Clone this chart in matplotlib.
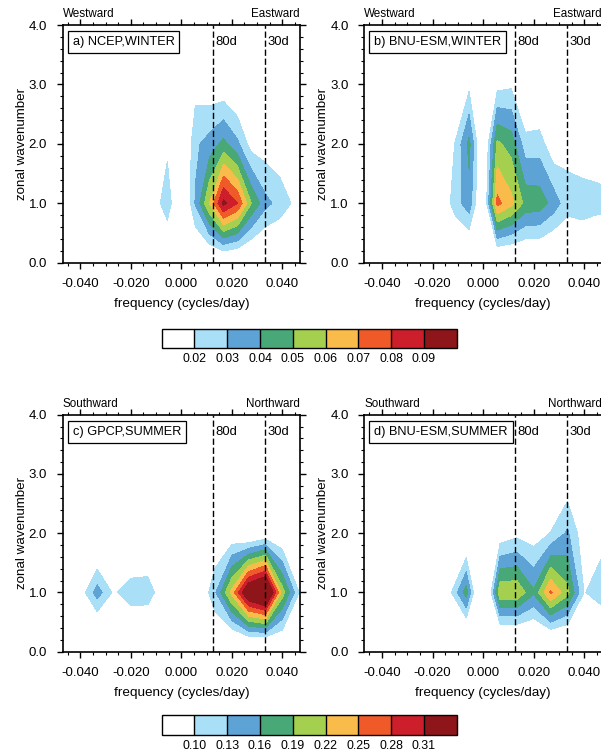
import matplotlib
matplotlib.use("Agg")
import matplotlib.pyplot as plt
import numpy as np
from matplotlib.colors import ListedColormap, BoundaryNorm
from matplotlib.cm import ScalarMappable
from matplotlib.ticker import MultipleLocator, FormatStrFormatter

plt.rcParams['font.family'] = ['Liberation Sans', 'DejaVu Sans']

W, H = 601, 752

colors = ['#ffffff', '#a9dff7', '#5ea3d6', '#48a878', '#a5d04f',
          '#f9bc4a', '#f05a28', '#cc1f2b', '#8e1519']
levels_winter = [0.02, 0.03, 0.04, 0.05, 0.06, 0.07, 0.08, 0.09]
levels_summer = [0.10, 0.13, 0.16, 0.19, 0.22, 0.25, 0.28, 0.31]

# spectra are on integer wavenumbers, frequency bins differ per season
wavenumber = [0, 1, 2, 3, 4]
freq_winter = np.arange(-9, 10) / 180
freq_summer = np.arange(-8, 9) / 150

#        k = -9 -8 -7 -6 -5 -4 -3 -2 -1 0 1 ...
ncep_winter = [
    [0, 0, 0, 0, 0, 0, 0, 0, 0, 0, .003, .002, .002, .001, 0, 0, .001, .005, 0],
    [0, 0, 0, 0, 0, 0, 0, .012, .028, 0, .031, .06, .093, .08, .05, .033, .0265, .0185, .008],
    [0, 0, 0, 0, 0, 0, 0, .006, .0166, .001, .028, .034, .043, .032, .015, .014, .012, .005, 0],
    [0, 0, 0, 0, 0, 0, 0, 0, .002, .002, .0157, .012, .011, .006, .003, .002, .001, 0, 0],
    [0, 0, 0, 0, 0, 0, 0, 0, 0, 0, 0, 0, 0, 0, 0, 0, 0, 0, 0],
]
bnu_winter = [
    [0, 0, 0, 0, 0, 0, 0, 0, 0, 0, 0, 0, .002, .002, 0, .0068, .0136, .008, .008],
    [0, 0, 0, 0, 0, 0, .01, .025, .036, .002, .073, .063, .047, .046, .036, .0235, .0225, .023, .022],
    [0, 0, 0, 0, 0, 0, .005, .0205, .043, .002, .052, .046, .0244, .025, .012, .017, .0166, .0145, .014],
    [0, 0, 0, 0, 0, 0, 0, .005, .017, .002, .016, .018, .0014, .004, .003, .002, .002, .002, .002],
    [0, 0, 0, 0, 0, 0, 0, 0, 0, 0, 0, 0, 0, 0, 0, 0, 0, 0, 0],
]
#        k = -8 -7 ... 8
gpcp_summer = [
    [0, 0, 0, .007, 0, 0, .006, 0, 0, 0, .048, .018, .009, 0, .039, .02, 0],
    [0, .03, .081, .145, .093, .128, .125, .0625, .03, .058, .125, .23, .36, .40, .205, .10, .05],
    [0, 0, 0, .031, .03, .011, .032, .02, .01, .02, .064, .07, .05, .067, .061, .04, .01],
    [0, 0, 0, 0, 0, 0, 0, 0, 0, .01, .015, .02, .02, .02, .02, .01, 0],
    [0, 0, 0, 0, 0, 0, 0, 0, 0, 0, 0, 0, 0, 0, 0, 0, 0],
]
bnu_summer = [
    [0, 0, 0, 0, 0, 0, 0, 0, 0, 0, 0, .017, .006, .015, .03, .025, .02],
    [0, 0, 0, 0, 0, 0, .09, .175, 0, .215, .215, .165, .255, .2, .098, .12, .14],
    [0, 0, 0, 0, 0, 0, .02, .047, 0, .076, .09, .081, .101, .135, .077, .085, .08],
    [0, 0, 0, 0, 0, 0, 0, 0, 0, .03, .04, .04, .05, .07, .02, .02, .02],
    [0, 0, 0, 0, 0, 0, 0, 0, 0, 0, 0, 0, 0, 0, 0, 0, 0],
]


def pixel_box(x0, y0, x1, y1):
    return [x0 / W, 1 - y1 / H, (x1 - x0) / W, (y1 - y0) / H]


def draw_panel(box, freq, power, levels, name, left_word, right_word, word_x):
    ax = fig.add_axes(pixel_box(*box))
    ax.contourf(freq, wavenumber, np.array(power), levels=levels, colors=colors, extend='both')
    ax.set_xlim(-0.047, 0.047)
    ax.set_ylim(0, 4)

    # 80 and 30 day periods
    for f, lab in [(1 / 80, '80d'), (1 / 30, '30d')]:
        ax.axvline(f, color='black', lw=1, ls=(0, (4.5, 2)))
        ax.text(f + 0.0009, 3.71, lab, fontsize=9.4, va='center', ha='left')

    ax.xaxis.set_major_locator(MultipleLocator(0.02))
    ax.xaxis.set_minor_locator(MultipleLocator(0.005))
    ax.yaxis.set_major_locator(MultipleLocator(1))
    ax.yaxis.set_minor_locator(MultipleLocator(0.2))
    ax.xaxis.set_major_formatter(FormatStrFormatter('%.3f'))
    ax.yaxis.set_major_formatter(FormatStrFormatter('%.1f'))
    ax.tick_params(which='major', direction='out', length=4.5, width=1, labelsize=9.5,
                   top=True, right=True, pad=6.7)
    ax.tick_params(which='minor', direction='out', length=2, width=0.8, top=True, right=True)
    for s in ax.spines.values():
        s.set_linewidth(1.2)
    ax.set_xlabel('frequency (cycles/day)', fontsize=9.7, labelpad=5.5)
    ax.set_ylabel('zonal wavenumber', fontsize=9.6, labelpad=0.8)

    fig.text((box[0] + 10) / W, 1 - (box[1] + 17) / H, name, fontsize=9.2, va='center', ha='left',
             bbox=dict(boxstyle='square,pad=0.38', fc='white', ec='black', lw=0.9), zorder=5)
    fig.text(box[0] / W, 1 - (box[1] - 5) / H, left_word, fontsize=8.4, va='bottom', ha='left')
    fig.text(word_x / W, 1 - (box[1] - 5) / H, right_word, fontsize=8.4, va='bottom', ha='left')
    return ax


def draw_bar(box, levels):
    cax = fig.add_axes(pixel_box(*box))
    step = np.arange(len(colors) + 1)
    norm = BoundaryNorm(step, len(colors))
    sm = ScalarMappable(norm=norm, cmap=ListedColormap(colors))
    cb = fig.colorbar(sm, cax=cax, orientation='horizontal', drawedges=True, spacing='uniform',
                      ticks=step[1:-1])
    cb.minorticks_off()
    cb.ax.set_xticklabels(['%.2f' % v for v in levels])
    cb.ax.tick_params(length=0, labelsize=8.9, pad=3.5)
    cb.outline.set_linewidth(1)
    cb.dividers.set_linewidth(1)


fig = plt.figure(figsize=(W / 100, H / 100), dpi=100)

draw_panel((62.7, 25, 300, 262.7), freq_winter, ncep_winter, levels_winter,
           'a) NCEP,WINTER', 'Westward', 'Eastward', 251.5)
draw_panel((364.3, 25, 602, 262.7), freq_winter, bnu_winter, levels_winter,
           'b) BNU-ESM,WINTER', 'Westward', 'Eastward', 553.5)
draw_panel((62.7, 414.7, 300, 651.7), freq_summer, gpcp_summer, levels_summer,
           'c) GPCP,SUMMER', 'Southward', 'Northward', 246)
draw_panel((364.3, 414.7, 602, 651.7), freq_summer, bnu_summer, levels_summer,
           'd) BNU-ESM,SUMMER', 'Southward', 'Northward', 548)

draw_bar((161.7, 329, 456.7, 348.3), levels_winter)
draw_bar((161.7, 715, 456.7, 735), levels_summer)

fig.savefig('out.png', dpi=100)
